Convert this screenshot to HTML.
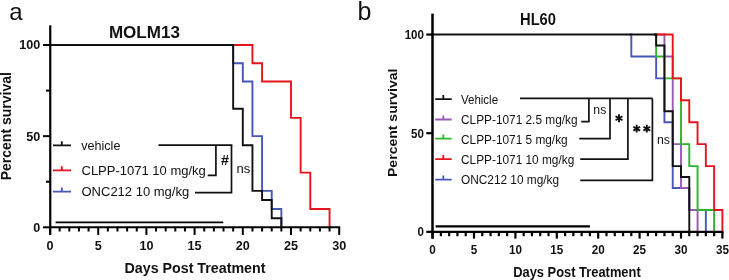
<!DOCTYPE html>
<html><head><meta charset="utf-8"><style>
html,body{margin:0;padding:0;background:#fff;width:729px;height:280px;overflow:hidden;}
svg{display:block;will-change:transform;}
text{font-family:"Liberation Sans",sans-serif;fill:#111;}
</style></head><body>
<svg width="729" height="280" viewBox="0 0 729 280">
<g fill="none" stroke-width="1.9" stroke-linejoin="miter" stroke-linecap="butt">
<path d="M231.23 45 L252.44 45 L252.44 63.23 L262.08 63.23 L262.08 81.46 L291 81.46 L291 117.92 L300.64 117.92 L300.64 172.61 L310.28 172.61 L310.28 209.07 L329.56 209.07 L329.56 227.3" stroke="#e8141b" />
<path d="M231.23 45 L233.16 45 L233.16 63.23 L242.8 63.23 L242.8 81.46 L252.44 81.46 L252.44 136.15 L262.08 136.15 L262.08 190.84 L271.72 190.84 L271.72 209.07 L281.36 209.07 L281.36 227.3" stroke="#4657b8" />
<path d="M50 45 L233.16 45 L233.16 108.81 L242.8 108.81 L242.8 145.27 L252.44 145.27 L252.44 190.84 L262.08 190.84 L262.08 199.96 L271.72 199.96 L271.72 218.19 L281.36 218.19 L281.36 227.3" stroke="#111" />
<g stroke="#000" stroke-width="2" fill="none">
<path d="M50.25 25.3 V234.9" stroke-width="2.2" />
<path d="M49 227.3 H340.2" />
<path d="M43 45 H50" />
<path d="M43 136.15 H50" />
<path d="M43 227.3 H50" />
<path d="M46 90.58 H50" />
<path d="M46 181.73 H50" />
<path d="M50 227.3 V234.9" />
<path d="M59.64 227.3 V231.5" />
<path d="M69.28 227.3 V231.5" />
<path d="M78.92 227.3 V231.5" />
<path d="M88.56 227.3 V231.5" />
<path d="M98.2 227.3 V234.9" />
<path d="M107.84 227.3 V231.5" />
<path d="M117.48 227.3 V231.5" />
<path d="M127.12 227.3 V231.5" />
<path d="M136.76 227.3 V231.5" />
<path d="M146.4 227.3 V234.9" />
<path d="M156.04 227.3 V231.5" />
<path d="M165.68 227.3 V231.5" />
<path d="M175.32 227.3 V231.5" />
<path d="M184.96 227.3 V231.5" />
<path d="M194.6 227.3 V234.9" />
<path d="M204.24 227.3 V231.5" />
<path d="M213.88 227.3 V231.5" />
<path d="M223.52 227.3 V231.5" />
<path d="M233.16 227.3 V231.5" />
<path d="M242.8 227.3 V234.9" />
<path d="M252.44 227.3 V231.5" />
<path d="M262.08 227.3 V231.5" />
<path d="M271.72 227.3 V231.5" />
<path d="M281.36 227.3 V231.5" />
<path d="M291 227.3 V234.9" />
<path d="M300.64 227.3 V231.5" />
<path d="M310.28 227.3 V231.5" />
<path d="M319.92 227.3 V231.5" />
<path d="M329.56 227.3 V231.5" />
<path d="M339.2 227.3 V234.9" />
</g>
<path d="M55.6 222.3 H223.22" stroke="#000" stroke-width="1.8" />
<path d="M53 145.3 H71 M61.8 145.3 V141.3" stroke="#111" stroke-width="1.8" />
<path d="M53 170.3 H71 M61.8 170.3 V166.3" stroke="#e8141b" stroke-width="1.8" />
<path d="M53 191.6 H71 M61.8 191.6 V187.6" stroke="#4657b8" stroke-width="1.8" />
<g stroke="#111" stroke-width="1.7" fill="none">
<path d="M158.5 145.2 H232.4" />
<path d="M215.9 145.2 V175.4 H207.7" />
<path d="M231.5 145.2 V192.7 H194.9" />
</g>
<path d="M629.25 34.55 L631.32 34.55 L631.32 56.47 L656.16 56.47 L656.16 78.39 L664.44 78.39 L664.44 122.24 L672.72 122.24 L672.72 188.01 L689.28 188.01 L689.28 209.93 L705.84 209.93 L705.84 231.85" stroke="#4657b8" />
<path d="M654.09 34.55 L664.44 34.55 L664.44 56.47 L672.72 56.47 L672.72 144.16 L681 144.16 L681 188.01 L689.28 188.01 L689.28 209.93 L697.56 209.93 L697.56 231.85" stroke="#9b59b6" />
<path d="M654.09 34.55 L656.16 34.55 L656.16 56.47 L664.44 56.47 L664.44 78.39 L681 78.39 L681 144.16 L689.28 144.16 L689.28 166.08 L697.56 166.08 L697.56 209.93 L714.12 209.93 L714.12 231.85" stroke="#2db52d" />
<path d="M654.09 34.55 L672.72 34.55 L672.72 78.39 L681 78.39 L681 100.32 L689.28 100.32 L689.28 122.24 L697.56 122.24 L697.56 144.16 L705.84 144.16 L705.84 166.08 L714.12 166.08 L714.12 209.93 L722.4 209.93 L722.4 231.85" stroke="#e8141b" />
<path d="M432.6 34.55 L656.16 34.55 L656.16 45.51 L664.44 45.51 L664.44 111.28 L672.72 111.28 L672.72 166.08 L681 166.08 L681 177.04 L689.28 177.04 L689.28 231.85" stroke="#111" />
<g stroke="#000" stroke-width="2.2" fill="none">
<path d="M432.5 13.6 V238.7" stroke-width="2.5" />
<path d="M431.6 231.85 H723.5" />
<path d="M426.3 34.55 H432.6" />
<path d="M426.3 133.2 H432.6" />
<path d="M426.3 231.85 H432.6" />
<path d="M432.6 231.85 V238.6" />
<path d="M440.88 231.85 V236.2" />
<path d="M449.16 231.85 V236.2" />
<path d="M457.44 231.85 V236.2" />
<path d="M465.72 231.85 V236.2" />
<path d="M474 231.85 V238.6" />
<path d="M482.28 231.85 V236.2" />
<path d="M490.56 231.85 V236.2" />
<path d="M498.84 231.85 V236.2" />
<path d="M507.12 231.85 V236.2" />
<path d="M515.4 231.85 V238.6" />
<path d="M523.68 231.85 V236.2" />
<path d="M531.96 231.85 V236.2" />
<path d="M540.24 231.85 V236.2" />
<path d="M548.52 231.85 V236.2" />
<path d="M556.8 231.85 V238.6" />
<path d="M565.08 231.85 V236.2" />
<path d="M573.36 231.85 V236.2" />
<path d="M581.64 231.85 V236.2" />
<path d="M589.92 231.85 V236.2" />
<path d="M598.2 231.85 V238.6" />
<path d="M606.48 231.85 V236.2" />
<path d="M614.76 231.85 V236.2" />
<path d="M623.04 231.85 V236.2" />
<path d="M631.32 231.85 V236.2" />
<path d="M639.6 231.85 V238.6" />
<path d="M647.88 231.85 V236.2" />
<path d="M656.16 231.85 V236.2" />
<path d="M664.44 231.85 V236.2" />
<path d="M672.72 231.85 V236.2" />
<path d="M681 231.85 V238.6" />
<path d="M689.28 231.85 V236.2" />
<path d="M697.56 231.85 V236.2" />
<path d="M705.84 231.85 V236.2" />
<path d="M714.12 231.85 V236.2" />
<path d="M722.4 231.85 V238.6" />
</g>
<path d="M435.6 226.4 H589.92" stroke="#000" stroke-width="2.1" />
<path d="M435.2 99.1 H451.7 M443.3 99.1 V95.1" stroke="#111" stroke-width="1.8" />
<path d="M435.2 119.5 H451.7 M443.3 119.5 V115.5" stroke="#9b59b6" stroke-width="1.8" />
<path d="M435.2 138.6 H451.7 M443.3 138.6 V134.6" stroke="#2db52d" stroke-width="1.8" />
<path d="M435.2 159.1 H451.7 M443.3 159.1 V155.1" stroke="#e8141b" stroke-width="1.8" />
<path d="M435.2 179.6 H451.7 M443.3 179.6 V175.6" stroke="#4657b8" stroke-width="1.8" />
<g stroke="#111" stroke-width="1.7" fill="none">
<path d="M520 98.4 H652.6" />
<path d="M588.9 98.4 V121.6 H581.2" />
<path d="M610 98.4 V138.7 H579.3" />
<path d="M627.9 98.4 V159.1 H580.2" />
<path d="M652.4 98.4 V180.4 H580.2" />
</g>
<path d="M619 114.2 L619 122.2 M615.54 116.2 L622.46 120.2 M622.46 116.2 L615.54 120.2 " stroke="#111" stroke-width="1.9" stroke-linecap="butt" />
<path d="M636.7 124.8 L636.7 132.6 M633.32 126.75 L640.08 130.65 M640.08 126.75 L633.32 130.65 " stroke="#111" stroke-width="1.9" stroke-linecap="butt" />
<path d="M646.8 124.8 L646.8 132.6 M643.42 126.75 L650.18 130.65 M650.18 126.75 L643.42 130.65 " stroke="#111" stroke-width="1.9" stroke-linecap="butt" />
</g>
<text x="9.3" y="19.9" font-size="24" font-weight="normal" text-anchor="start" fill="#1a1a1a">a</text>
<text transform="translate(108.9 38.2) scale(1 1.07)" font-size="15.3" font-weight="bold" text-anchor="start" textLength="71" lengthAdjust="spacingAndGlyphs">MOLM13</text>
<text x="40.3" y="49.4" font-size="12.6" font-weight="bold" text-anchor="end" >100</text>
<text x="40.3" y="140.55" font-size="12.6" font-weight="bold" text-anchor="end" >50</text>
<text x="40.3" y="231.7" font-size="12.6" font-weight="bold" text-anchor="end" >0</text>
<text x="50" y="249.6" font-size="12.6" font-weight="bold" text-anchor="middle" >0</text>
<text x="98.2" y="249.6" font-size="12.6" font-weight="bold" text-anchor="middle" >5</text>
<text x="146.4" y="249.6" font-size="12.6" font-weight="bold" text-anchor="middle" >10</text>
<text x="194.6" y="249.6" font-size="12.6" font-weight="bold" text-anchor="middle" >15</text>
<text x="242.8" y="249.6" font-size="12.6" font-weight="bold" text-anchor="middle" >20</text>
<text x="291" y="249.6" font-size="12.6" font-weight="bold" text-anchor="middle" >25</text>
<text x="339.2" y="249.6" font-size="12.6" font-weight="bold" text-anchor="middle" >30</text>
<text x="124.5" y="272.7" font-size="14.25" font-weight="bold" text-anchor="start" >Days Post Treatment</text>
<text transform="translate(10.7 126.2) rotate(-90)" font-size="14" font-weight="bold" text-anchor="middle">Percent survival</text>
<text transform="translate(81.2 149.6) scale(1 1.03)" font-size="12.6" font-weight="normal" text-anchor="start" >vehicle</text>
<text x="81.5" y="174.6" font-size="13" font-weight="normal" text-anchor="start" >CLPP-1071 10 mg/kg</text>
<text x="81.5" y="195.8" font-size="13" font-weight="normal" text-anchor="start" >ONC212 10 mg/kg</text>
<text x="221" y="165.1" font-size="14.3" font-weight="bold" text-anchor="start" >#</text>
<text x="236.5" y="173.3" font-size="13" font-weight="normal" text-anchor="start" >ns</text>
<text x="357.5" y="20" font-size="25" font-weight="normal" text-anchor="start" fill="#1a1a1a">b</text>
<text x="520" y="24.6" font-size="16" font-weight="bold" text-anchor="start" textLength="36" lengthAdjust="spacingAndGlyphs">HL60</text>
<text transform="translate(424 39.15) scale(1 1.08)" font-size="11.6" font-weight="bold" text-anchor="end" >100</text>
<text transform="translate(424 137.8) scale(1 1.08)" font-size="11.6" font-weight="bold" text-anchor="end" >50</text>
<text transform="translate(424 236.45) scale(1 1.08)" font-size="11.6" font-weight="bold" text-anchor="end" >0</text>
<text transform="translate(432.6 253.7) scale(1 1.08)" font-size="11.7" font-weight="bold" text-anchor="middle" >0</text>
<text transform="translate(474 253.7) scale(1 1.08)" font-size="11.7" font-weight="bold" text-anchor="middle" >5</text>
<text transform="translate(515.4 253.7) scale(1 1.08)" font-size="11.7" font-weight="bold" text-anchor="middle" >10</text>
<text transform="translate(556.8 253.7) scale(1 1.08)" font-size="11.7" font-weight="bold" text-anchor="middle" >15</text>
<text transform="translate(598.2 253.7) scale(1 1.08)" font-size="11.7" font-weight="bold" text-anchor="middle" >20</text>
<text transform="translate(639.6 253.7) scale(1 1.08)" font-size="11.7" font-weight="bold" text-anchor="middle" >25</text>
<text transform="translate(681 253.7) scale(1 1.08)" font-size="11.7" font-weight="bold" text-anchor="middle" >30</text>
<text transform="translate(722.4 253.7) scale(1 1.08)" font-size="11.7" font-weight="bold" text-anchor="middle" >35</text>
<text transform="translate(513.2 276.8) scale(1 1.1)" font-size="12.9" font-weight="bold" text-anchor="start" >Days Post Treatment</text>
<text transform="translate(396.5 122.8) rotate(-90) scale(1.17 1)" font-size="12" font-weight="bold" text-anchor="middle">Percent survival</text>
<text transform="translate(461 104) scale(1 1.1)" font-size="11.5" font-weight="normal" text-anchor="start" >Vehicle</text>
<text transform="translate(461 124.3) scale(1 1.07)" font-size="11.85" font-weight="normal" text-anchor="start" >CLPP-1071 2.5 mg/kg</text>
<text transform="translate(461 143.6) scale(1 1.07)" font-size="11.85" font-weight="normal" text-anchor="start" >CLPP-1071 5 mg/kg</text>
<text transform="translate(461 163.6) scale(1 1.07)" font-size="11.85" font-weight="normal" text-anchor="start" >CLPP-1071 10 mg/kg</text>
<text transform="translate(461 184) scale(1 1.07)" font-size="11.85" font-weight="normal" text-anchor="start" >ONC212 10 mg/kg</text>
<text transform="translate(593.3 114.4) scale(1 1.08)" font-size="12.3" font-weight="normal" text-anchor="start" >ns</text>
<text transform="translate(657 143.7) scale(1 1.08)" font-size="12.3" font-weight="normal" text-anchor="start" >ns</text>
</svg>
</body></html>
